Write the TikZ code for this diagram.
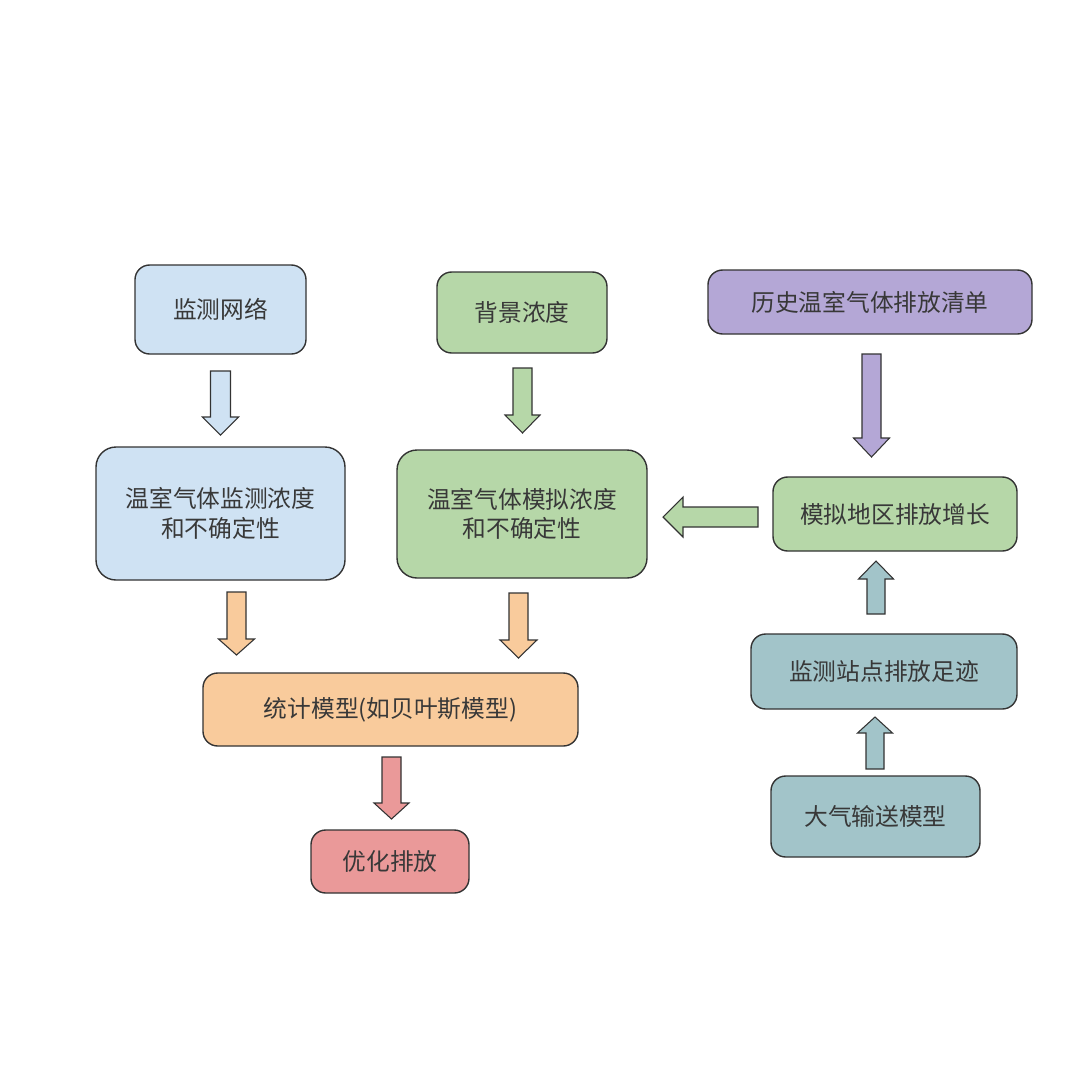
\documentclass[tikz,border=0pt]{standalone}
\usepackage{fontspec}
\setmainfont{Noto Sans CJK SC}
\definecolor{cblue}{HTML}{CFE2F3}
\definecolor{cgreen}{HTML}{B6D7A8}
\definecolor{cpurple}{HTML}{B4A7D6}
\definecolor{cteal}{HTML}{A2C4C9}
\definecolor{corange}{HTML}{F9CB9C}
\definecolor{cred}{HTML}{EA9999}
\definecolor{cline}{HTML}{333333}
\definecolor{ctext}{HTML}{383838}
% vertical block arrow: cx, y-start, y-headbase, y-tip, shaft w, head w, colour
\newcommand\barrV[7]{%
  \filldraw[barrow,fill=#7] (#1-#5/2,#2) -- (#1+#5/2,#2) -- (#1+#5/2,#3) -- (#1+#6/2,#3)
    -- (#1,#4) -- (#1-#6/2,#3) -- (#1-#5/2,#3) -- cycle;}
% horizontal block arrow: cy, x-start, x-headbase, x-tip, shaft w, head w, colour
\newcommand\barrH[7]{%
  \filldraw[barrow,fill=#7] (#2,#1-#5/2) -- (#2,#1+#5/2) -- (#3,#1+#5/2) -- (#3,#1+#6/2)
    -- (#4,#1) -- (#3,#1-#6/2) -- (#3,#1-#5/2) -- cycle;}
\tikzset{
  box/.style={draw=cline, line width=1.05pt, rounded corners=11pt, inner sep=0pt,
    align=center, text=ctext, font=\fontsize{17.8pt}{22pt}\selectfont},
  bigbox/.style={box, rounded corners=15pt},
  barrow/.style={draw=cline, line width=0.8pt, line join=miter},
}
\begin{document}
\begin{tikzpicture}[x=0.75pt,y=-0.75pt]
\fill[white] (0,0) rectangle (1072,1072);
\useasboundingbox (0,0) rectangle (1072,1072);

\node[box, fill=cblue, minimum width=128.25pt, minimum height=66.75pt] (mon) at (220.5,309.5) {监测网络};
\node[bigbox, fill=cblue, minimum width=186.75pt, minimum height=99.75pt] (monc) at (220.5,513.5) {温室气体监测浓度\\和不确定性};
\node[box, fill=cgreen, minimum width=127.5pt, minimum height=60.75pt] (bg) at (522,312.5) {背景浓度};
\node[bigbox, fill=cgreen, minimum width=187.5pt, minimum height=96pt] (simc) at (522,514) {温室气体模拟浓度\\和不确定性};
\node[box, fill=cpurple, minimum width=243pt, minimum height=48pt] (hist) at (870,302) {历史温室气体排放清单};
\node[box, fill=cgreen, minimum width=183pt, minimum height=55.5pt] (grow) at (895,514) {模拟地区排放增长};
\node[box, fill=cteal, minimum width=199.5pt, minimum height=56.25pt] (foot) at (884,671.5) {监测站点排放足迹};
\node[box, fill=cteal, minimum width=156.75pt, minimum height=60.75pt] (atm) at (875.5,816.5) {大气输送模型};
\node[box, fill=corange, minimum width=281.25pt, minimum height=54.75pt] (stat) at (390.5,709.5) {统计模型(如贝叶斯模型)};
\node[box, fill=cred, minimum width=118.5pt, minimum height=47.25pt] (opt) at (390,861.5) {优化排放};

% block arrows
\barrV{220.5}{371}{417}{435}{20}{36}{cblue}
\barrV{522.5}{368}{415}{433}{19}{35}{cgreen}
\barrV{871.5}{354}{438}{457}{19}{36}{cpurple}
\barrH{517}{758}{683}{663}{20}{40}{cgreen}
\barrV{876}{614}{579}{561}{18}{35}{cteal}
\barrV{875}{769}{733}{717}{18}{35}{cteal}
\barrV{236.5}{592}{639}{655}{19}{36}{corange}
\barrV{518.5}{593}{640}{658}{19}{37}{corange}
\barrV{391.5}{757}{803}{819}{19}{35}{cred}
\end{tikzpicture}
\end{document}
